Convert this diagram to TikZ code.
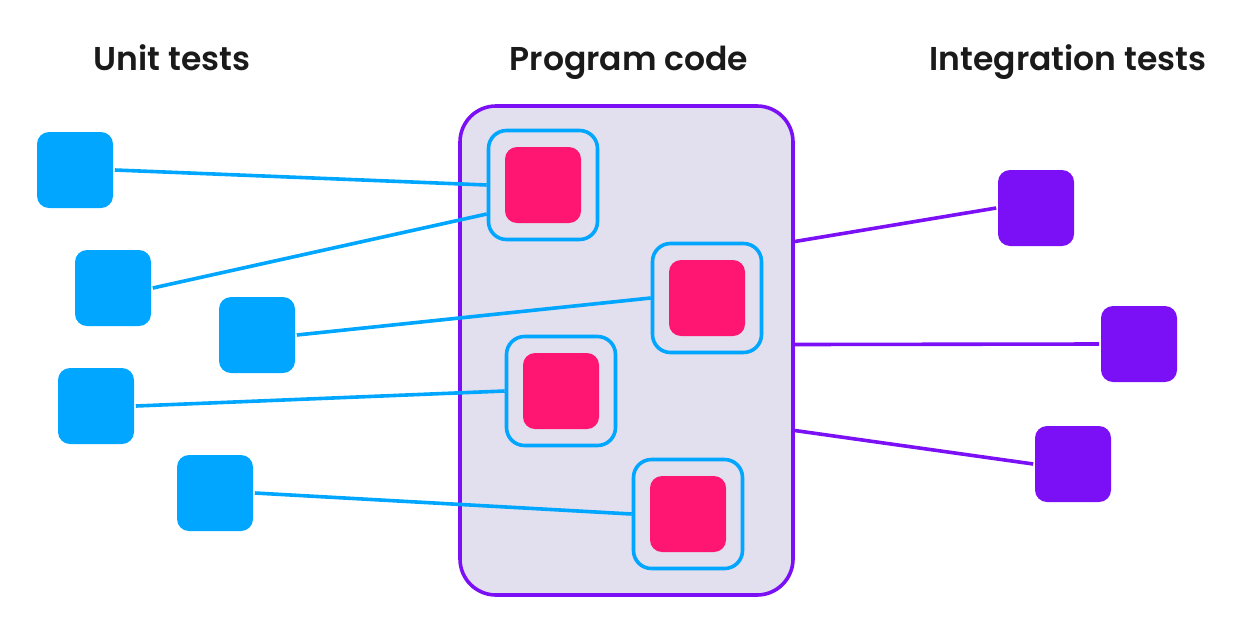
\documentclass[tikz,border=0pt]{standalone}
\usepackage{fontspec}
\setmainfont{Poppins}[BoldFont={Poppins SemiBold}]
\usetikzlibrary{positioning}
\definecolor{unitblue}{HTML}{00A6FF}
\definecolor{codepink}{HTML}{FF1672}
\definecolor{intpurple}{HTML}{7B10F6}
\definecolor{codefill}{HTML}{E2DFEF}
\definecolor{titleblack}{HTML}{1A1A1A}
\begin{document}
\begin{tikzpicture}[x=1pt,y=-1pt,line width=3.6pt]
  \tikzstyle{unit}=[fill=unitblue,draw=none,minimum size=76pt,rounded corners=12pt,inner sep=0pt]
  \tikzstyle{integ}=[fill=intpurple,draw=none,minimum size=76pt,rounded corners=12pt,inner sep=0pt]
  \tikzstyle{module}=[draw=unitblue,minimum size=109pt,rounded corners=18pt,inner sep=0pt]
  \tikzstyle{piece}=[fill=codepink,draw=none,minimum size=76pt,rounded corners=12pt,inner sep=0pt]
  \tikzstyle{title}=[text=titleblack,font=\fontsize{33}{40}\selectfont\bfseries,anchor=base]
  \useasboundingbox (0,0) rectangle (1260,622);

	\node[title]	(t1) at (172,70)  {Unit tests};
	\node[title]	(t2) at (629,70)  {Program code};
	\node[title]	(t3) at (1068,70) {Integration tests};

	\node[draw=intpurple,fill=codefill,minimum width=333pt,minimum height=489pt,
	      rounded corners=36pt]	(code) at (626.5,350.5) {};

	\node[module]	(m1) at (543,185) {};
	\node[module]	(m2) at (707,298) {};
	\node[module]	(m3) at (561,391) {};
	\node[module]	(m4) at (688,514) {};
	\node[piece]	(p1) at (m1) {};
	\node[piece]	(p2) at (m2) {};
	\node[piece]	(p3) at (m3) {};
	\node[piece]	(p4) at (m4) {};

	\node[unit]	(u1) at (75,170)  {};
	\node[unit]	(u2) at (113,288) {};
	\node[unit]	(u3) at (257,335) {};
	\node[unit]	(u4) at (96,406)  {};
	\node[unit]	(u5) at (215,493) {};

	\node[integ]	(i1) at (1036,208) {};
	\node[integ]	(i2) at (1139,344) {};
	\node[integ]	(i3) at (1073,464) {};

	\path[draw=unitblue]
		(u1.east) edge[]	node {} (m1.west)
		(u2.east) edge[]	node {} ([yshift=-29pt]m1.west)
		(u3.east) edge[]	node {} (m2.west)
		(u4.east) edge[]	node {} (m3.west)
		(u5.east) edge[]	node {} (m4.west);

	\path[draw=intpurple]
		([yshift=109pt]code.east) edge[]	node {} (i1.west)
		([yshift=6pt]code.east)   edge[]	node {} (i2.west)
		([yshift=-80pt]code.east) edge[]	node {} (i3.west);

\end{tikzpicture}
\end{document}
